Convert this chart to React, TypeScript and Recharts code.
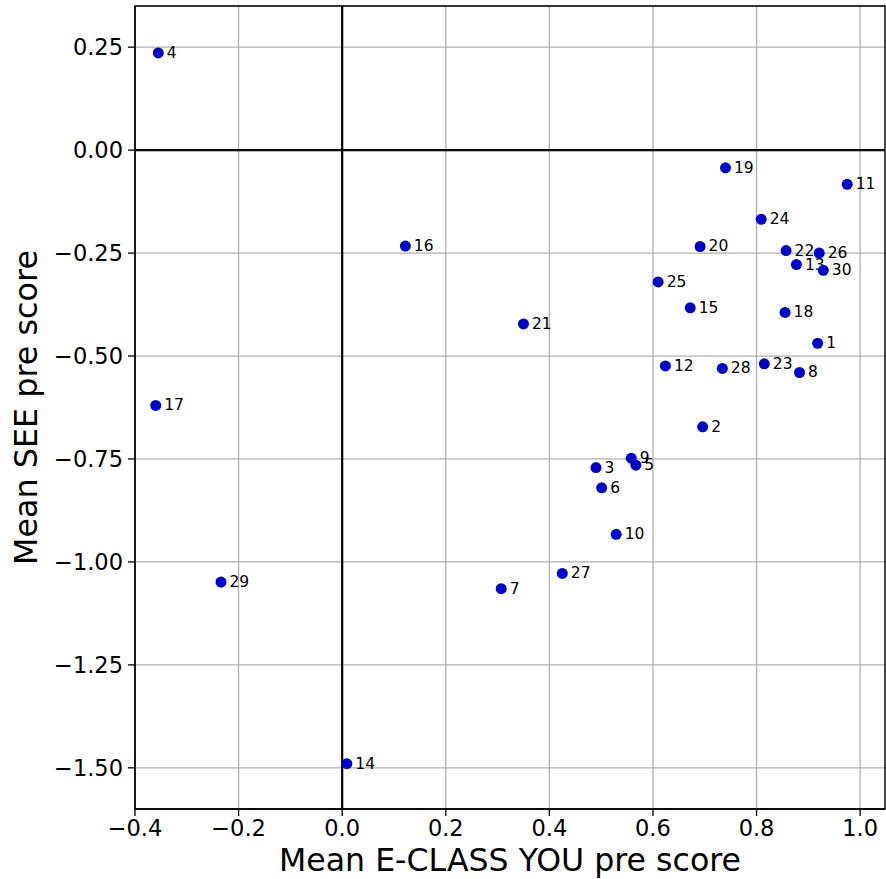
import React from "react";
import {
  ScatterChart,
  Scatter,
  XAxis,
  YAxis,
  CartesianGrid,
  ReferenceLine,
  ReferenceArea,
  Label,
} from "recharts";

// course ids and their mean pre scores
const ids = [1, 2, 3, 4, 5, 6, 7, 8, 9, 10, 11, 12, 13, 14, 15, 16, 17, 18, 19, 20, 21, 22, 23, 24, 25, 26, 27, 28, 29, 30];
const eclassPre = [
  0.918, 0.696, 0.49, -0.355, 0.567, 0.501, 0.307, 0.883, 0.558, 0.529,
  0.975, 0.624, 0.877, 0.009, 0.672, 0.122, -0.36, 0.855, 0.74, 0.691,
  0.35, 0.857, 0.815, 0.809, 0.61, 0.921, 0.425, 0.734, -0.234, 0.929,
];
const seePre = [
  -0.469, -0.672, -0.771, 0.236, -0.765, -0.82, -1.065, -0.54, -0.748, -0.933,
  -0.083, -0.524, -0.278, -1.49, -0.383, -0.233, -0.62, -0.394, -0.043, -0.234,
  -0.422, -0.244, -0.519, -0.168, -0.32, -0.25, -1.028, -0.53, -1.049, -0.292,
];

const xTicks = [-0.4, -0.2, 0, 0.2, 0.4, 0.6, 0.8, 1.0];
const yTicks = [-1.5, -1.25, -1.0, -0.75, -0.5, -0.25, 0, 0.25];

const points = ids.map((id, i) => ({ id, x: eclassPre[i], y: seePre[i] }));

const FONT = "DejaVu Sans, sans-serif";
const fmt = (v: number, d: number) => v.toFixed(d).replace("-", "\u2212");

const Dot = (props: any) => {
  const { cx, cy, payload } = props;
  return (
    <g>
      <circle cx={cx} cy={cy} r={5.5} fill="#0000cd" />
      <text
        x={cx + 8.5}
        y={cy}
        dominantBaseline="central"
        fontSize={15.5}
        fontFamily={FONT}
        fill="#000"
      >
        {payload.id}
      </text>
    </g>
  );
};

export default function App() {
  return (
    <div style={{ position: "absolute", left: 0, top: 0 }}>
      <ScatterChart
        width={886}
        height={879}
        margin={{ top: 6, right: 1, bottom: 0, left: 0 }}
      >
        <CartesianGrid stroke="#b0b0b0" strokeWidth={1.3} />
        <XAxis
          type="number"
          dataKey="x"
          domain={[-0.4, 1.048]}
          ticks={xTicks}
          allowDataOverflow
          height={70}
          tickSize={7}
          tickMargin={4}
          stroke="#000"
          axisLine={{ stroke: "#000", strokeWidth: 1.3 }}
          tickLine={{ stroke: "#000", strokeWidth: 1.3 }}
          tick={{ fill: "#000", fontSize: 22.5, fontFamily: FONT }}
          tickFormatter={(v: number) => fmt(v, 1)}
        >
          <Label
            content={({ viewBox }: any) => (
              <text
                x={viewBox.x + viewBox.width / 2}
                y={viewBox.y + 62}
                textAnchor="middle"
                fontSize={31.6}
                fontFamily={FONT}
                fill="#000"
              >
                Mean E-CLASS YOU pre score
              </text>
            )}
          />
        </XAxis>
        <YAxis
          type="number"
          dataKey="y"
          domain={[-1.6, 0.35]}
          ticks={yTicks}
          allowDataOverflow
          width={135}
          tickSize={7}
          tickMargin={5}
          stroke="#000"
          axisLine={{ stroke: "#000", strokeWidth: 1.3 }}
          tickLine={{ stroke: "#000", strokeWidth: 1.3 }}
          tick={{ fill: "#000", fontSize: 22.5, fontFamily: FONT }}
          tickFormatter={(v: number) => fmt(v, 2)}
        >
          <Label
            content={({ viewBox }: any) => {
              const cx = viewBox.x + 37;
              const cy = viewBox.y + viewBox.height / 2;
              return (
                <text
                  x={cx}
                  y={cy}
                  transform={`rotate(-90 ${cx} ${cy})`}
                  textAnchor="middle"
                  fontSize={31.8}
                  fontFamily={FONT}
                  fill="#000"
                >
                  Mean SEE pre score
                </text>
              );
            }}
          />
        </YAxis>
        <ReferenceArea
          x1={-0.4}
          x2={1.048}
          y1={-1.6}
          y2={0.35}
          fill="none"
          stroke="#000"
          strokeWidth={1.3}
          fillOpacity={0}
        />
        <ReferenceLine x={0} stroke="#000" strokeWidth={2.2} />
        <ReferenceLine y={0} stroke="#000" strokeWidth={2.2} />
        <Scatter data={points} shape={Dot} isAnimationActive={false} />
      </ScatterChart>
    </div>
  );
}
